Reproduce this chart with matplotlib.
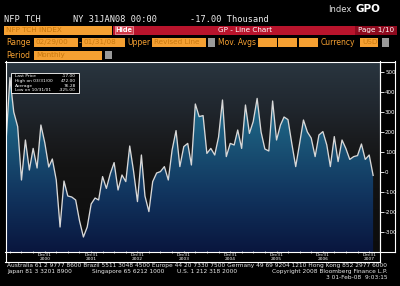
import matplotlib
matplotlib.use("Agg")
import matplotlib.pyplot as plt
import matplotlib.dates as mdates
import numpy as np
import pandas as pd
from matplotlib.colors import LinearSegmentedColormap
from matplotlib.patches import Rectangle, Polygon
from matplotlib.lines import Line2D

# NFP total change, thousands, monthly Feb-2000 .. Jan-2008
months = pd.date_range("2000-02-29", "2008-01-31", freq="ME")
nfp_2000 = [150, 472, 300, 227, -40, 160, 10, 118, 20, 235, 145]
nfp_2001 = [25, 65, -40, -275, -45, -120, -125, -140, -243, -325, -275, -160]
nfp_2002 = [-130, -140, -23, -82, -8, 47, -90, -15, -48, 130, 5, -148]
nfp_2003 = [85, -120, -198, -48, -5, 2, 27, -40, 110, 207, 27, 127]
nfp_2004 = [143, 35, 340, 277, 282, 93, 118, 85, 175, 360, 77, 143]
nfp_2005 = [135, 210, 118, 335, 193, 252, 368, 200, 115, 105, 355, 160]
nfp_2006 = [235, 275, 262, 143, 27, 140, 260, 200, 170, 77, 185, 202]
nfp_2007 = [135, 27, 177, 52, 160, 118, 63, 77, 82, 140, 63, 85]
nfp_2008 = [-17]
values = nfp_2000 + nfp_2001 + nfp_2002 + nfp_2003 + nfp_2004 + nfp_2005 + nfp_2006 + nfp_2007 + nfp_2008

y_ticks = [-300, -200, -100, 0, 100, 200, 300, 400, 500]
year_ends = pd.to_datetime([f"{y}-12-31" for y in range(2000, 2008)])

legend_rows = [("Last Price", "-17.00"), ("High on 03/31/00", "472.00"),
               ("Average", "76.28"), ("Low on 10/31/01", "-325.00")]

ORANGE = '#F5A032'
ORANGE_TXT = '#C8780E'
RED = '#B8142C'
WHITE = '#FFFFFF'

W, H = 400, 286
fig = plt.figure(figsize=(W / 100, H / 100), dpi=100, facecolor='black')


def fx(x):
    return x / W


def fy(y):
    return 1 - y / H


def box(x0, y0, x1, y1, fc, ec='none', lw=0.0):
    fig.add_artist(Rectangle((fx(x0), fy(y1)), (x1 - x0) / W, (y1 - y0) / H,
                             transform=fig.transFigure, facecolor=fc,
                             edgecolor=ec, lw=lw))


def txt(x, y, s, **kw):
    kw.setdefault('va', 'center')
    kw.setdefault('family', 'DejaVu Sans')
    fig.text(fx(x), fy(y), s, **kw)


def hline(y, x0, x1, c=WHITE, lw=0.8):
    fig.add_artist(Line2D([fx(x0), fx(x1)], [fy(y), fy(y)], color=c, lw=lw,
                          transform=fig.transFigure))


def vline(x, y0, y1, c=WHITE, lw=0.8):
    fig.add_artist(Line2D([fx(x), fx(x)], [fy(y0), fy(y1)], color=c, lw=lw,
                          transform=fig.transFigure))


# ---- header ----
txt(328, 9, "Index", color='#E0E0E0', fontsize=6)
txt(356, 9, "GPO", color=WHITE, fontsize=7.5, fontweight='bold')
txt(4, 19, "NFP TCH", color='#F0F0F0', fontsize=6.2, family='DejaVu Sans Mono')
txt(73, 19, "NY 31JAN08 00:00", color='#F0F0F0', fontsize=6.2, family='DejaVu Sans Mono')
txt(190, 19, "-17.00 Thousand", color='#F0F0F0', fontsize=6.2, family='DejaVu Sans Mono')

box(4, 25.5, 112, 34.5, ORANGE)
txt(6, 30, "NFP TCH INDEX", color=ORANGE_TXT, fontsize=5.2)
box(113, 25.5, 397, 34.5, RED)
box(115, 26, 133, 34, '#D23A48', ec='#F0A0A8', lw=0.5)
txt(124, 30, "Hide", color=WHITE, fontsize=4.8, ha='center', fontweight='bold')
txt(245, 30, "GP - Line Chart", color=WHITE, fontsize=5.2, ha='center')
box(355, 25.5, 397, 34.5, '#8E0A1E')
txt(376, 30, "Page 1/10", color=WHITE, fontsize=5.2, ha='center')

# range row
txt(6, 42.5, "Range", color=ORANGE, fontsize=5.5)
box(34, 38, 78, 47, ORANGE)
txt(36, 42.5, "02/29/00", color=ORANGE_TXT, fontsize=5.2)
txt(79, 42.5, "-", color=ORANGE, fontsize=5.5)
box(82, 38, 125, 47, ORANGE)
txt(84, 42.5, "01/31/08", color=ORANGE_TXT, fontsize=5.2)
txt(127, 42.5, "Upper", color=ORANGE, fontsize=5.5)
box(152, 38, 206, 47, ORANGE)
txt(154, 42.5, "Revised Line", color=ORANGE_TXT, fontsize=5.2)
box(208, 38.5, 215, 46.5, '#9A9A9A')
txt(218, 42.5, "Mov. Avgs", color=ORANGE, fontsize=5.5)
box(258, 38, 277, 47, ORANGE)
box(278, 38, 297, 47, ORANGE)
box(299, 38, 318, 47, ORANGE)
txt(321, 42.5, "Currency", color=ORANGE, fontsize=5.5)
box(360, 38, 378, 47, ORANGE)
txt(362, 42.5, "USD", color=ORANGE_TXT, fontsize=5.2)
box(382, 38.5, 389, 46.5, '#9A9A9A')

txt(6, 55, "Period", color=ORANGE, fontsize=5.5)
box(34, 50.5, 102, 59.5, ORANGE)
txt(36, 55, "Monthly", color=ORANGE_TXT, fontsize=5.2)
box(105, 51, 112, 59, '#9A9A9A')

# ---- chart ----
ax = fig.add_axes([fx(5.5), fy(252), (379.5 - 5.5) / W, (252 - 62) / H])
x0 = mdates.date2num(pd.Timestamp("2000-02-29")) - 0.5 / 0.1269
x1 = x0 + 374 / 0.1269
ax.set_xlim(x0, x1)
ax.set_ylim(-400, 550)
ax.set_facecolor('#101010')

bg_cmap = LinearSegmentedColormap.from_list(
    'bg', [(0, '#0c0c0c'), (0.45, '#141414'), (0.6, '#1a1c1f'),
           (0.78, '#212830'), (1, '#29353f')])
grad = np.linspace(0, 1, 256).reshape(-1, 1)
ax.imshow(grad, cmap=bg_cmap, origin='lower', aspect='auto',
          extent=[x0, x1, -400, 550], zorder=0, interpolation='bicubic')

fill_cmap = LinearSegmentedColormap.from_list(
    'fill', [(0, '#09163e'), (0.3, '#11345e'), (0.55, '#195174'),
             (0.8, '#1f6e8e'), (1, '#2a88a8')])
im = ax.imshow(grad, cmap=fill_cmap, origin='lower', aspect='auto',
               extent=[x0, x1, -400, 550], zorder=1, interpolation='bicubic')
xd = mdates.date2num(months)
verts = list(zip(xd, values)) + [(xd[-1], -400), (xd[0], -400)]
clip = Polygon(verts, closed=True, transform=ax.transData, facecolor='none', edgecolor='none')
ax.add_patch(clip)
im.set_clip_path(clip)

ax.plot(months, values, color='#D8D8D8', lw=0.95, zorder=3)
ax.set_xlim(x0, x1)

for s in ['top', 'left', 'bottom']:
    ax.spines[s].set_visible(False)
ax.spines['right'].set_color(WHITE)
ax.spines['right'].set_linewidth(0.8)

ax.yaxis.tick_right()
ax.set_yticks(y_ticks)
ax.set_yticklabels([str(t) for t in y_ticks])
ax.tick_params(axis='y', colors=WHITE, labelsize=4, length=3, width=0.6, pad=1)
ax.set_xticks(year_ends)
ax.xaxis.set_major_formatter(mdates.DateFormatter('%b%d\n%Y'))
ax.xaxis.set_minor_locator(mdates.MonthLocator(bymonth=[3, 6, 9, 12], bymonthday=-1))
ax.tick_params(axis='x', which='both', colors=WHITE, labelsize=3.2, length=1.5,
               width=0.5, pad=0.3, direction='inout')
for lab in ax.get_xticklabels():
    lab.set_linespacing(0.95)

# stats box
ax.add_patch(Rectangle((0.016, 0.835), 0.18, 0.105, transform=ax.transAxes,
                       facecolor='black', edgecolor=WHITE, lw=0.6, zorder=5))
for k, (lab, val) in enumerate(legend_rows):
    yy = 0.925 - k * 0.025
    ax.text(0.026, yy, lab, transform=ax.transAxes, color=WHITE, fontsize=3.2,
            va='center', zorder=6)
    ax.text(0.188, yy, val, transform=ax.transAxes, color=WHITE, fontsize=3.2,
            va='center', ha='right', zorder=6)

# frames
hline(61.5, 5, 395)
vline(5.5, 61, 262)
hline(251.8, 5, 395)
hline(261.5, 5, 379.5)
vline(379.5, 61, 262)
vline(394.5, 61, 252)

# ---- footer ----
txt(7, 265.5, "Australia 61 2 9777 8600 Brazil 5511 3048 4500 Europe 44 20 7330 7500 "
    "Germany 49 69 9204 1210 Hong Kong 852 2977 6000", color='#E8E8E8', fontsize=4.2)
txt(7, 271.5, "Japan 81 3 3201 8900", color='#E8E8E8', fontsize=4.2)
txt(92, 271.5, "Singapore 65 6212 1000", color='#E8E8E8', fontsize=4.2)
txt(177, 271.5, "U.S. 1 212 318 2000", color='#E8E8E8', fontsize=4.2)
txt(388, 271.5, "Copyright 2008 Bloomberg Finance L.P.", color='#E8E8E8', fontsize=4.2, ha='right')
txt(388, 277.5, "3 01-Feb-08  9:03:15", color='#E8E8E8', fontsize=4.2, ha='right')

fig.savefig('out.png', dpi=100, facecolor='black')
